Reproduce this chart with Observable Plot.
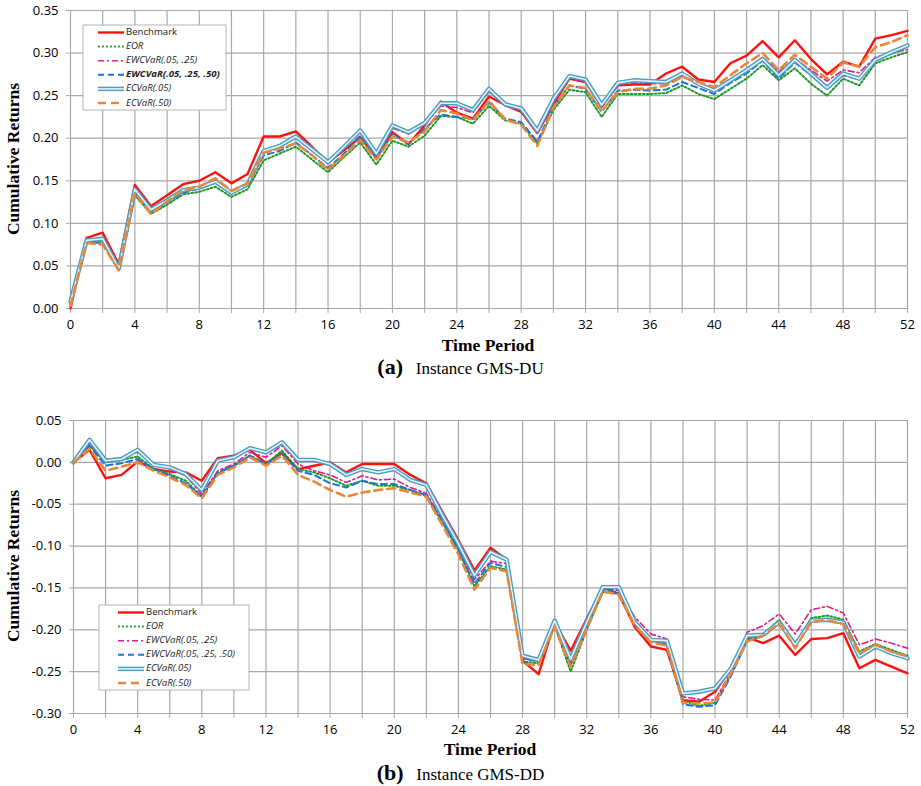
<!DOCTYPE html>
<html><head><meta charset="utf-8">
<script src="https://cdn.jsdelivr.net/npm/d3@7"></script>
<script src="https://cdn.jsdelivr.net/npm/@observablehq/plot@0.6"></script>
<style>
body{margin:0;background:#fff;}
#wrap{position:relative;width:921px;height:786px;overflow:hidden;background:#fff;}
.panel{position:absolute;left:0;}
.caption{position:absolute;left:0;width:921px;text-align:center;font-family:"Liberation Serif","Times New Roman",serif;color:#000;white-space:nowrap;}
.caption b{font-size:22px;}
.caption span{font-size:17px;}
</style></head><body><div id="wrap"></div>
<script>
// ---------- data ----------
const periods = [0,1,2,3,4,5,6,7,8,9,10,11,12,13,14,15,16,17,18,19,20,21,22,23,24,25,26,27,28,29,30,31,32,33,34,35,36,37,38,39,40,41,42,43,44,45,46,47,48,49,50,51,52];
const seriesNames = ["Benchmark","EOR","EWCVaR(.05, .25)","EWCVaR(.05, .25, .50)","ECVaR(.05)","ECVaR(.50)"];

// Panel (a) Instance GMS-DU
const benchA  = [0,0.083,0.089,0.052,0.145,0.120,0.133,0.146,0.150,0.160,0.147,0.158,0.202,0.202,0.208,0.190,0.171,0.186,0.201,0.177,0.207,0.193,0.215,0.243,0.230,0.223,0.249,0.239,0.231,0.206,0.240,0.270,0.266,0.238,0.262,0.263,0.263,0.276,0.284,0.269,0.266,0.288,0.297,0.314,0.295,0.315,0.293,0.275,0.290,0.284,0.317,0.321,0.326];
const eorA    = [0.004,0.077,0.078,0.045,0.133,0.111,0.122,0.134,0.137,0.143,0.131,0.140,0.174,0.182,0.190,0.175,0.160,0.178,0.195,0.169,0.197,0.190,0.203,0.226,0.225,0.217,0.238,0.221,0.217,0.194,0.233,0.257,0.254,0.225,0.252,0.252,0.252,0.253,0.262,0.252,0.246,0.258,0.270,0.286,0.268,0.282,0.264,0.250,0.270,0.262,0.288,0.295,0.301];
const ew2A    = [0.005,0.079,0.080,0.046,0.137,0.114,0.126,0.137,0.142,0.148,0.136,0.146,0.183,0.190,0.201,0.186,0.170,0.188,0.207,0.180,0.212,0.205,0.216,0.238,0.236,0.230,0.255,0.238,0.232,0.206,0.243,0.270,0.266,0.236,0.262,0.265,0.264,0.264,0.273,0.263,0.257,0.268,0.281,0.295,0.278,0.293,0.280,0.267,0.280,0.277,0.295,0.300,0.304];
const ew3A    = [0.006,0.078,0.077,0.046,0.135,0.113,0.125,0.136,0.141,0.148,0.135,0.145,0.180,0.185,0.195,0.180,0.165,0.182,0.203,0.176,0.205,0.193,0.211,0.228,0.225,0.223,0.242,0.223,0.219,0.196,0.237,0.262,0.258,0.231,0.256,0.257,0.256,0.257,0.266,0.259,0.252,0.265,0.276,0.291,0.270,0.289,0.274,0.258,0.274,0.269,0.291,0.299,0.307];
const ec05A   = [0.008,0.080,0.082,0.047,0.140,0.116,0.127,0.139,0.142,0.149,0.136,0.146,0.185,0.191,0.202,0.187,0.172,0.190,0.209,0.182,0.215,0.207,0.218,0.241,0.241,0.233,0.258,0.240,0.235,0.209,0.246,0.273,0.269,0.239,0.265,0.268,0.267,0.266,0.276,0.264,0.256,0.268,0.280,0.293,0.274,0.292,0.276,0.259,0.276,0.270,0.292,0.301,0.309];
const ec50A   = [0.003,0.077,0.075,0.045,0.136,0.111,0.126,0.139,0.143,0.153,0.138,0.147,0.183,0.188,0.194,0.180,0.163,0.180,0.198,0.175,0.202,0.195,0.208,0.233,0.229,0.221,0.244,0.222,0.216,0.191,0.236,0.262,0.259,0.232,0.254,0.258,0.258,0.262,0.272,0.266,0.260,0.274,0.288,0.300,0.280,0.298,0.284,0.270,0.289,0.284,0.307,0.313,0.321];

// Panel (b) Instance GMS-DD
const benchB  = [0,0.015,-0.019,-0.015,0.001,-0.008,-0.011,-0.012,-0.022,0.005,0.008,0.015,-0.001,0.011,-0.008,-0.004,0.000,-0.012,-0.002,-0.002,-0.002,-0.015,-0.025,-0.059,-0.093,-0.129,-0.102,-0.116,-0.237,-0.253,-0.191,-0.225,-0.187,-0.149,-0.157,-0.197,-0.220,-0.224,-0.284,-0.286,-0.274,-0.246,-0.209,-0.216,-0.207,-0.230,-0.211,-0.210,-0.204,-0.246,-0.236,-0.244,-0.252];
const eorB    = [0,0.020,0.000,0.003,0.007,-0.008,-0.014,-0.022,-0.041,-0.013,-0.004,0.008,-0.002,0.014,-0.008,-0.012,-0.019,-0.028,-0.022,-0.028,-0.028,-0.033,-0.040,-0.072,-0.105,-0.148,-0.124,-0.128,-0.238,-0.240,-0.195,-0.250,-0.200,-0.155,-0.157,-0.193,-0.213,-0.218,-0.285,-0.291,-0.287,-0.253,-0.212,-0.206,-0.188,-0.218,-0.186,-0.183,-0.188,-0.226,-0.217,-0.224,-0.231];
const ew2B    = [0,0.022,0.002,0.006,0.012,-0.002,-0.008,-0.016,-0.038,-0.010,-0.002,0.012,0.006,0.020,-0.002,-0.010,-0.015,-0.024,-0.016,-0.021,-0.020,-0.030,-0.037,-0.069,-0.102,-0.140,-0.118,-0.121,-0.234,-0.238,-0.192,-0.240,-0.195,-0.151,-0.153,-0.185,-0.205,-0.211,-0.280,-0.283,-0.284,-0.250,-0.203,-0.195,-0.181,-0.205,-0.176,-0.172,-0.180,-0.218,-0.211,-0.216,-0.222];
const ew3B    = [0,0.020,-0.004,-0.001,0.004,-0.008,-0.016,-0.025,-0.041,-0.012,-0.004,0.008,-0.002,0.010,-0.010,-0.015,-0.025,-0.030,-0.022,-0.026,-0.026,-0.033,-0.039,-0.070,-0.104,-0.145,-0.120,-0.125,-0.234,-0.238,-0.195,-0.242,-0.198,-0.152,-0.156,-0.190,-0.212,-0.217,-0.289,-0.292,-0.290,-0.255,-0.213,-0.208,-0.192,-0.220,-0.190,-0.189,-0.192,-0.230,-0.220,-0.227,-0.233];
const ec05B   = [0,0.027,0.002,0.004,0.015,-0.003,-0.006,-0.014,-0.033,0.002,0.006,0.017,0.012,0.024,0.003,0.003,-0.002,-0.015,-0.008,-0.012,-0.008,-0.021,-0.027,-0.063,-0.097,-0.135,-0.107,-0.116,-0.231,-0.236,-0.189,-0.235,-0.191,-0.149,-0.149,-0.191,-0.212,-0.213,-0.276,-0.274,-0.270,-0.246,-0.207,-0.206,-0.191,-0.218,-0.189,-0.188,-0.191,-0.232,-0.220,-0.228,-0.234];
const ec50B   = [0,0.016,-0.010,-0.005,0.000,-0.010,-0.018,-0.027,-0.043,-0.015,-0.006,0.006,-0.004,0.008,-0.015,-0.023,-0.033,-0.041,-0.036,-0.033,-0.031,-0.036,-0.041,-0.075,-0.110,-0.152,-0.126,-0.130,-0.241,-0.242,-0.196,-0.244,-0.199,-0.154,-0.158,-0.195,-0.215,-0.219,-0.287,-0.288,-0.287,-0.252,-0.214,-0.207,-0.192,-0.222,-0.190,-0.189,-0.193,-0.228,-0.218,-0.226,-0.232];

// ticks
const xGridTicks = [0,2,4,6,8,10,12,14,16,18,20,22,24,26,28,30,32,34,36,38,40,42,44,46,48,50,52];
const xLabelTicks = [0,4,8,12,16,20,24,28,32,36,40,44,48,52];
const yTicksA = [0,0.05,0.10,0.15,0.20,0.25,0.30,0.35];
const yTicksB = [-0.30,-0.25,-0.20,-0.15,-0.10,-0.05,0,0.05];

// ---------- styles ----------
const styles = [
  [{stroke:"#ff1010", strokeWidth:2.4}],
  [{stroke:"#1f9a2a", strokeWidth:2, strokeDasharray:"1.8 2.2"}],
  [{stroke:"#e0198c", strokeWidth:1.6, strokeDasharray:"6 3 2 3"}],
  [{stroke:"#1f72d6", strokeWidth:2, strokeDasharray:"6 4"}],
  [{stroke:"#4c9cc2", strokeWidth:4.4}, {stroke:"#e4f2f8", strokeWidth:1.6}],
  [{stroke:"#e8873a", strokeWidth:2.6, strokeDasharray:"8 5"}]
];

function buildPanel(cfg) {
  const rows = [];
  cfg.values.forEach((arr, si) => arr.forEach((v, i) => rows.push({t: periods[i], v, s: si})));
  const fmt = d => d.toFixed(2);
  const lineMarks = [];
  styles.forEach((layers, si) => {
    const d = rows.filter(r => r.s === si);
    layers.forEach(st => lineMarks.push(Plot.line(d, {x:"t", y:"v", strokeLinejoin:"round", ...st})));
  });
  const plot = Plot.plot({
    width: 921, height: cfg.height,
    marginTop: cfg.mt, marginBottom: cfg.mb, marginLeft: cfg.ml, marginRight: 14,
    x: {domain:[0,52], label:null},
    y: {domain: cfg.yDomain, label:null},
    style: {fontFamily:"'Open Sans', sans-serif", fontSize:"13px", color:"#000", background:"transparent"},
    marks: [
      Plot.ruleY(cfg.yTicks, {stroke:"#a8a8a8", strokeWidth:1.2}),
      Plot.ruleX(xGridTicks, {stroke:"#a8a8a8", strokeWidth:1.2}),
      Plot.axisY({ticks: cfg.yTicks, tickFormat: fmt, tickSize: 4, tickPadding: 8, stroke:"#a8a8a8", fill:"#000", label:null}),
      Plot.axisX({ticks: xGridTicks, tickFormat: d => (xLabelTicks.includes(d) ? String(d) : ""), tickSize: 5, tickPadding: 6, stroke:"#a8a8a8", fill:"#000", label:null}),
      ...lineMarks
    ]
  });
  const svg = d3.select(plot);
  // axis titles
  svg.append("text")
    .attr("transform", `translate(15,${cfg.yLabelCy}) rotate(-90)`)
    .attr("text-anchor","middle").attr("dominant-baseline","middle")
    .style("font-family","'Liberation Serif','Times New Roman',serif").style("font-weight","bold").style("font-size","17.5px")
    .text("Cumulative Returns");
  svg.append("text")
    .attr("x", cfg.xLabelCx).attr("y", cfg.xLabelY)
    .attr("text-anchor","middle").attr("dominant-baseline","middle")
    .style("font-family","'Liberation Serif','Times New Roman',serif").style("font-weight","bold").style("font-size","17.5px")
    .text("Time Period");
  // legend
  const L = cfg.legend;
  const g = svg.append("g").attr("text-anchor","start");
  g.append("rect").attr("x",L.x).attr("y",L.y).attr("width",L.w).attr("height",L.h)
    .attr("fill","#fff").attr("stroke","#b4b4b4").attr("stroke-width",1);
  seriesNames.forEach((name, si) => {
    const yy = L.y + 7.5 + si*14.1;
    styles[si].forEach(st => {
      g.append("line").attr("x1",L.sx).attr("x2",L.sx+26).attr("y1",yy).attr("y2",yy)
        .attr("stroke",st.stroke).attr("stroke-width",st.strokeWidth)
        .attr("stroke-dasharray",st.strokeDasharray || null);
    });
    g.append("text").attr("x",L.sx+28).attr("y",yy).attr("dominant-baseline","middle")
      .attr("text-anchor","start")
      .style("font-family","'Open Sans',sans-serif").style("font-size","9.6px")
      .style("font-style", si === 0 ? "normal" : "italic")
      .style("font-weight", (cfg.boldEntry === si) ? "bold" : "normal")
      .attr("fill","#222")
      .text(name);
  });
  return plot;
}

const wrap = document.getElementById("wrap");

const pa = buildPanel({
  values:[benchA,eorA,ew2A,ew3A,ec05A,ec50A],
  height:355, mt:10, mb:47, ml:70,
  yDomain:[0,0.35], yTicks:yTicksA,
  yLabelCy:159, xLabelCx:488, xLabelY:347,
  legend:{x:83, y:25, w:143, h:85, sx:98}, boldEntry:3
});
pa.classList.add("panel"); pa.style.top = "0px";
wrap.appendChild(pa);

const pb = buildPanel({
  values:[benchB,eorB,ew2B,ew3B,ec05B,ec50B],
  height:365, mt:25, mb:47, ml:73,
  yDomain:[-0.30,0.05], yTicks:yTicksB,
  yLabelCy:171, xLabelCx:490, xLabelY:356,
  legend:{x:99, y:210, w:150, h:85, sx:118}, boldEntry:-1
});
pb.classList.add("panel"); pb.style.top = "395px";
wrap.appendChild(pb);

const ca = document.createElement("div");
ca.className = "caption"; ca.style.top = "354px"; ca.style.lineHeight = "26px";
ca.innerHTML = "<b>(a)</b><span>&nbsp;&nbsp; Instance GMS-DU</span>";
wrap.appendChild(ca);

const cb = document.createElement("div");
cb.className = "caption"; cb.style.top = "760px"; cb.style.lineHeight = "26px";
cb.innerHTML = "<b>(b)</b><span>&nbsp;&nbsp; Instance GMS-DD</span>";
wrap.appendChild(cb);
</script></body></html>
